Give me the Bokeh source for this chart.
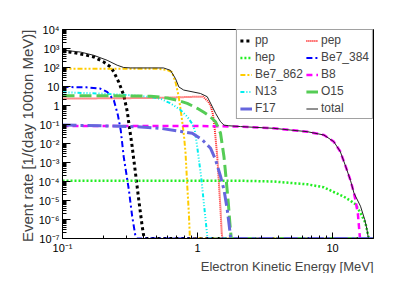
import numpy as np
from bokeh.plotting import figure
from bokeh.models import Range1d, FixedTicker, Title, Legend, LegendItem
from bokeh.embed import file_html
from bokeh.resources import INLINE

# ---- data (E in MeV, rate in 1/(day 100ton MeV)) ----
pp_E = [0.1, 0.115, 0.144, 0.171, 0.202, 0.227, 0.24, 0.261, 0.284, 0.302, 0.31, 0.328, 0.347, 0.367, 0.389, 0.40, 0.41, 20.0]
pp_R = [680, 640, 480, 355, 195, 107, 58, 17, 3.5, 0.47, 0.115, 6.9e-3, 2.8e-4, 1.1e-5, 4.5e-7, 1.3e-7, 1e-8, 1e-8]

pep_E = [0.1, 0.5, 1.0, 1.1, 1.2, 1.25, 1.3, 1.34, 1.40, 1.44, 1.48, 1.51, 1.53, 20.0]
pep_R = [2.3, 2.5, 2.9, 2.9, 1.6, 1.0, 0.35, 0.063, 2.0e-3, 8.3e-5, 3.3e-6, 2.0e-7, 1e-8, 1e-8]

hep_E = [0.1, 2.0, 3.67, 6.5, 8.6, 10.2, 12.1, 13.5, 14.8, 16.1, 17.5, 18.4, 18.6, 20.0]
hep_R = [1.1e-4, 1.1e-4, 1.0e-4, 7.1e-5, 5.0e-5, 2.8e-5, 1.6e-5, 1.0e-5, 6.3e-6, 2.2e-6, 6.8e-7, 1.35e-7, 1e-8, 1e-8]

be7a_E = [0.1, 0.15, 0.19, 0.214, 0.24, 0.257, 0.27, 0.284, 0.31, 0.328, 0.347, 0.355, 20.0]
be7a_R = [9.5, 9.0, 7.8, 5.2, 1.9, 0.32, 0.05, 2.0e-3, 3.7e-5, 1.5e-6, 1.3e-7, 1e-8, 1e-8]

be7b_E = [0.1, 0.5, 0.596, 0.646, 0.687, 0.724, 0.759, 0.794, 0.815, 0.839, 0.863, 0.877, 0.89, 20.0]
be7b_R = [87, 87, 74, 58, 17, 3.2, 0.32, 0.025, 3.2e-3, 6.3e-5, 2.0e-6, 1.3e-7, 1e-8, 1e-8]

b8_E = [0.1, 1.0, 2.08, 3.67, 4.89, 6.49, 8.63, 10.2, 11.4, 12.5, 13.6, 14.4, 14.8, 15.4, 15.9, 16.0, 20.0]
b8_R = [0.083, 0.083, 0.078, 0.063, 0.051, 0.042, 0.028, 0.0126, 3.8e-3, 6.3e-4, 1.1e-4, 2.5e-5, 1e-5, 2e-6, 1.35e-7, 1e-8, 1e-8]

n13_E = [0.1, 0.2, 0.316, 0.449, 0.537, 0.631, 0.748, 0.839, 0.912, 0.955, 1.0, 1.065, 1.12, 1.18, 1.2, 20.0]
n13_R = [5.0, 4.2, 3.5, 2.8, 2.2, 1.3, 0.58, 0.26, 0.11, 0.05, 5e-3, 1.6e-4, 5e-6, 1.4e-7, 1e-8, 1e-8]

o15_E = [0.1, 0.3, 0.449, 0.596, 0.708, 0.839, 0.995, 1.114, 1.213, 1.36, 1.48, 1.57, 1.63, 1.69, 1.75, 1.78, 20.0]
o15_R = [3.3, 3.2, 3.1, 2.5, 1.9, 1.3, 0.71, 0.44, 0.3, 0.14, 0.035, 2e-3, 1.3e-4, 7.4e-6, 3e-7, 1e-8, 1e-8]

f17_E = [0.1, 0.2, 0.35, 0.53, 0.77, 0.914, 1.084, 1.25, 1.36, 1.48, 1.57, 1.66, 1.73, 1.76, 20.0]
f17_R = [0.093, 0.085, 0.076, 0.063, 0.042, 0.035, 0.0155, 5.6e-3, 1.4e-3, 1.9e-4, 3.7e-5, 3.3e-6, 3e-7, 1e-8, 1e-8]

total_E = [0.1, 0.136, 0.171, 0.214, 0.254, 0.284, 0.32, 0.56, 0.63, 0.687, 0.727, 0.79, 1.05, 1.18, 1.25,
           1.36, 1.48, 1.57, 1.7, 2.08, 3.67, 4.89, 6.49, 8.63, 10.2, 11.4, 12.5, 13.6, 14.4, 16.1, 17.3,
           17.9, 18.4, 18.5, 20.0]
total_R = [820, 650, 435, 240, 132, 100, 95, 95, 71, 26, 9.5, 6.5, 4.3, 2.9, 1.3,
           0.39, 0.14, 0.093, 0.086, 0.078, 0.063, 0.051, 0.042, 0.028, 0.0126, 3.8e-3, 6.3e-4, 1.1e-4, 2.5e-5, 5e-6, 1e-6,
           3.5e-7, 1.1e-7, 1e-8, 1e-8]

x_ticks = [0.1, 1, 10]
x_tick_labels = ["10\u207b\u00b9", "1", "10"]
y_ticks = [1e-7, 1e-6, 1e-5, 1e-4, 1e-3, 1e-2, 1e-1, 1, 10, 100, 1000, 10000]
y_tick_labels = ["10\u207b\u2077", "10\u207b\u2076", "10\u207b\u2075", "10\u207b\u2074", "10\u207b\u00b3",
                 "10\u207b\u00b2", "10\u207b\u00b9", "1", "10", "10\u00b2", "10\u00b3", "10\u2074"]

YMIN, YMAX = 1e-7, 1e4
XMIN, XMAX = 0.1, 20.1

FONT = "Liberation Sans"

p = figure(width=407, height=273, x_axis_type="log", y_axis_type="log",
           x_range=Range1d(XMIN, XMAX), y_range=Range1d(YMIN, YMAX),
           output_backend="svg", toolbar_location=None,
           min_border_left=62, min_border_right=34, min_border_top=29, min_border_bottom=34)
p.grid.visible = False
p.outline_line_color = "black"
p.outline_line_width = 1
p.background_fill_color = "white"
p.border_fill_color = "white"

series = [
    ("pp", pp_E, pp_R, "black", 3, "3 3"),
    ("pep", pep_E, pep_R, "#ff1a1a", 2, "1 1"),
    ("hep", hep_E, hep_R, "#22ee22", 2.5, "2 2"),
    ("Be7_384", be7a_E, be7a_R, "#0000ff", 2, "6 3 2 3"),
    ("Be7_862", be7b_E, be7b_R, "#ffcc00", 2, "5 2 2 2 2 2"),
    ("B8", b8_E, b8_R, "#ff00ff", 2.5, "6 4"),
    ("N13", n13_E, n13_R, "#00eeee", 2, "4 2 1 2 1 2 1 2"),
    ("O15", o15_E, o15_R, "#55cc55", 3, "12 5"),
    ("F17", f17_E, f17_R, "#6666dd", 3, "14 4 3 4"),
    ("total", total_E, total_R, "#222222", 1, "solid"),
]

items = []
for name, E, R, col, w, dash in series:
    y = np.clip(np.array(R, dtype=float), YMIN, None)
    r = p.line(np.array(E, dtype=float), y, line_color=col, line_width=w, line_dash=dash)
    items.append(LegendItem(label=name, renderers=[r]))

# legend fills column by column: put even entries in first column, odd in second
items = items[0::2] + items[1::2]

legend = Legend(items=items, location="top_right", ncols=2, margin=0, padding=3, spacing=3,
                glyph_width=12, glyph_height=11, label_height=11, label_standoff=3,
                label_text_font=FONT, label_text_font_size="12px",
                border_line_color="#444444", border_line_width=1,
                background_fill_alpha=1.0)
p.add_layout(legend)

p.xaxis.ticker = FixedTicker(ticks=x_ticks,
                             minor_ticks=[k * 10.0 ** d for d in (-1, 0, 1) for k in range(2, 10)])
p.yaxis.ticker = FixedTicker(ticks=y_ticks,
                             minor_ticks=[k * 10.0 ** d for d in range(-7, 4) for k in range(2, 10)])
p.xaxis.major_label_overrides = dict(zip(x_ticks, x_tick_labels))
p.yaxis.major_label_overrides = dict(zip(y_ticks, y_tick_labels))

for ax in (p.xaxis, p.yaxis):
    ax.axis_line_color = "black"
    ax.major_tick_out = 0
    ax.minor_tick_out = 0
    ax.major_tick_line_color = "black"
    ax.minor_tick_line_color = "black"
    ax.major_label_text_font = FONT
    ax.major_label_text_font_size = "11px"
    ax.major_label_text_color = "black"
    ax.major_label_standoff = 3
p.yaxis.major_tick_in = 8
p.yaxis.minor_tick_in = 4
p.xaxis.major_tick_in = 6
p.xaxis.minor_tick_in = 3

p.add_layout(Title(text="Electron Kinetic Energy [MeV]", align="right", text_font=FONT,
                   text_font_size="13px", text_font_style="normal", standoff=0, offset=0), "below")
p.add_layout(Title(text="Event rate [1/(day 100ton MeV)]", align="right", text_font=FONT,
                   text_font_size="15px", text_font_style="normal", standoff=0, offset=0), "left")

open("out.html", "w").write(file_html(p, INLINE))
